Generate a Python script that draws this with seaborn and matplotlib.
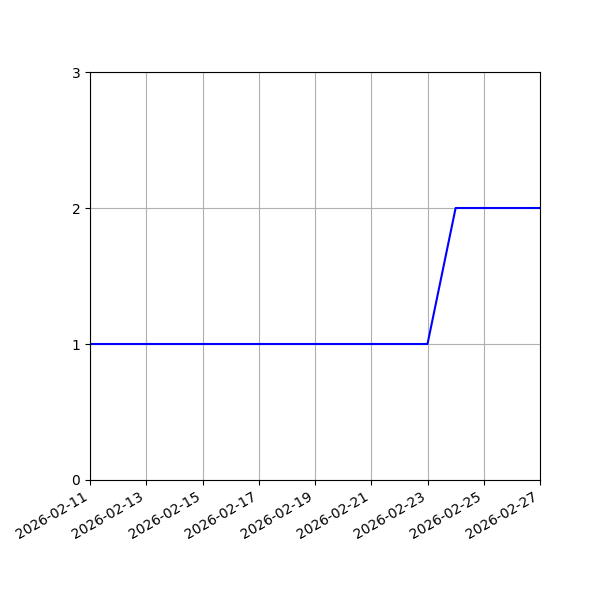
import pandas as pd
import seaborn as sns
import matplotlib
matplotlib.use("Agg")
import matplotlib.pyplot as plt
import matplotlib.dates as mdates

# daily counts
dates = pd.date_range("2026-02-11", "2026-02-27", freq="D")
counts = [1, 1, 1, 1, 1, 1, 1, 1, 1, 1, 1, 1, 1, 2, 2, 2, 2]

df = pd.DataFrame({"date": dates, "count": counts})

fig, ax = plt.subplots(figsize=(6, 6), dpi=100)
sns.lineplot(data=df, x="date", y="count", color="blue", ax=ax)

ax.set_xlim(dates[0], dates[-1])
ax.set_ylim(0, 3)
ax.set_yticks([0, 1, 2, 3])
ax.xaxis.set_major_locator(mdates.DayLocator(interval=2))
ax.xaxis.set_major_formatter(mdates.DateFormatter("%Y-%m-%d"))
ax.set_xlabel("")
ax.set_ylabel("")
ax.grid(True)
fig.autofmt_xdate()
fig.subplots_adjust(left=0.15, right=0.9, top=0.88, bottom=0.2)
fig.savefig("out.png")
